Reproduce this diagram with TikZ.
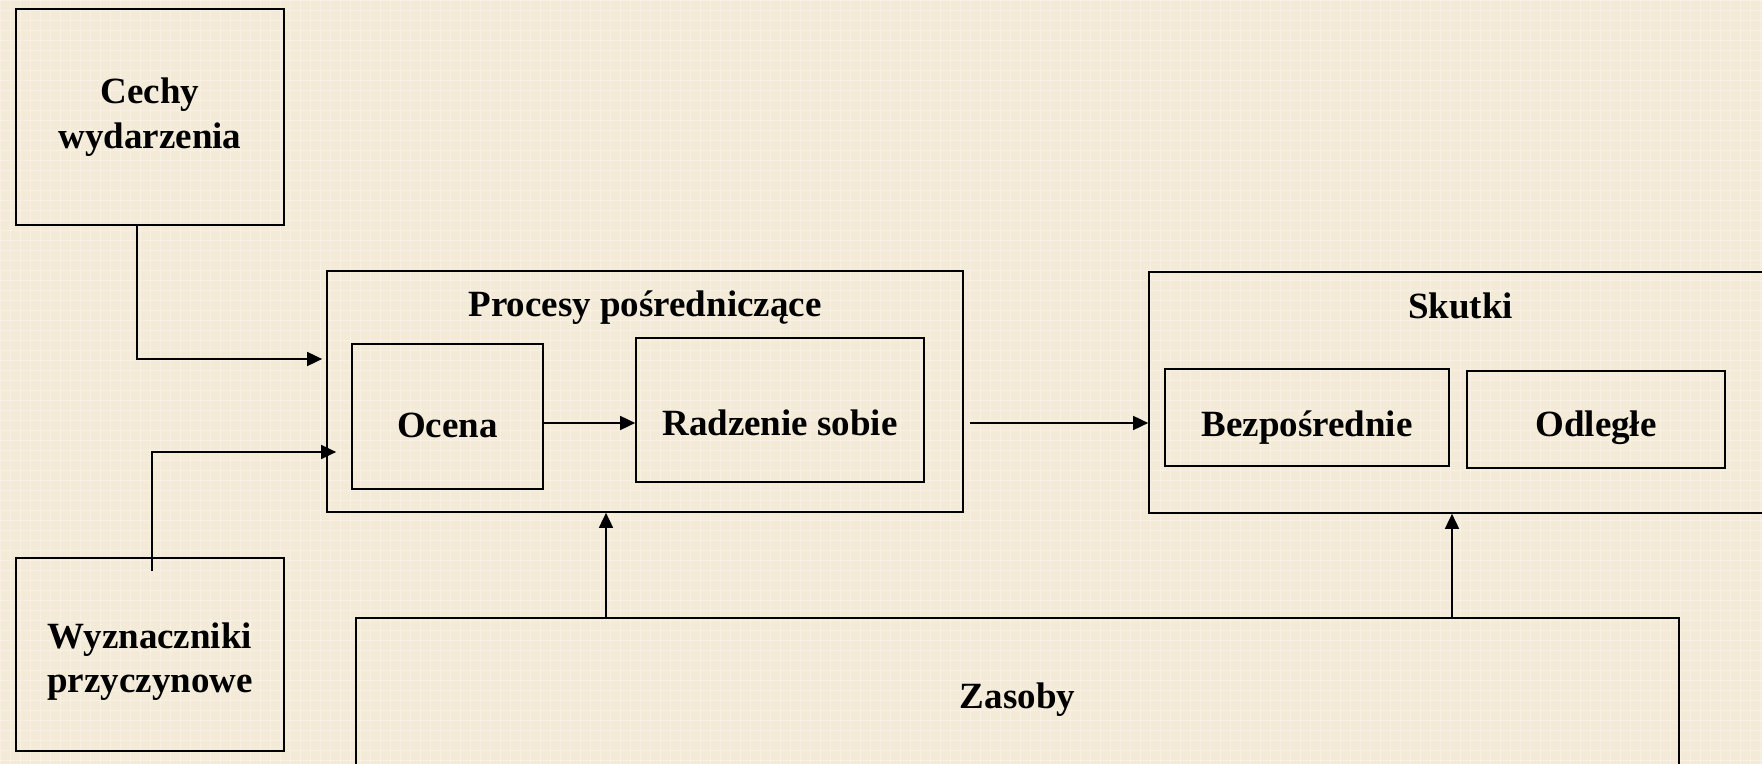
\documentclass[tikz,border=0pt]{standalone}
\usepackage{fontspec}
\setmainfont{Liberation Serif}
\usepackage{tikz}
\usetikzlibrary{calc,arrows.meta}
\definecolor{cream1} {RGB} {243, 235, 216}
\tikzstyle{zas}=[
  x=0.5pt, y=-0.5pt, font=\bfseries\fontsize{18.5}{22.3}\selectfont
]
\tikzstyle{zasbox}=[
  draw, line width=0.85pt, rectangle, align=center, inner sep=0pt
]
\tikzstyle{zasedge}=[
  line width=0.85pt, -{Triangle[length=7.5pt,width=7pt]}
]

\begin{document}
\begin{tikzpicture}[zas]

    \clip (0,0) rectangle (1762,764);
    \fill[cream1] (0,0) rectangle (1762,764);
    \draw[white, line width=0.4pt, opacity=0.35, step=5pt] (0,0) grid (1762,764);

    \node (cechy) [zasbox, minimum width=134pt, minimum height=108pt] at (150,117) {Cechy\\wydarzenia};
    \node (wyzn) [zasbox, minimum width=134pt, minimum height=96.5pt] at (150,654.5) {};
    \node (wyzntxt) [align=center] at ($(wyzn) + (0,7)$) {Wyznaczniki\\przyczynowe};

    \node (procesy) [zasbox, minimum width=318pt, minimum height=120.5pt] at (645,391.5) {};
    \node (procesytxt) at ($(procesy) + (0,-84)$) {Procesy pośredniczące};
    \node (ocena) [zasbox, minimum width=95.5pt, minimum height=72.5pt] at (447.5,416.5) {};
    \node (ocenatxt) at ($(ocena) + (0,9)$) {Ocena};
    \node (radzenie) [zasbox, minimum width=144pt, minimum height=72pt] at (780,410) {};
    \node (radzenietxt) at ($(radzenie) + (0,13)$) {Radzenie sobie};

    \node (skutki) [zasbox, minimum width=325.5pt, minimum height=120.5pt] at (1474.5,392.5) {};
    \node (skutkitxt) at ($(skutki) + (-14,-87)$) {Skutki};
    \node (bezp) [zasbox, minimum width=142pt, minimum height=48.5pt] at (1307,417.5) {};
    \node (bezptxt) at ($(bezp) + (0,10)$) {Bezpośrednie};
    \node (odlegle) [zasbox, minimum width=129pt, minimum height=48.5pt] at (1596,419.5) {};
    \node (odlegletxt) at ($(odlegle) + (0,8)$) {Odległe};

    \node (zasoby) [zasbox, minimum width=661.5pt, minimum height=116pt] at (1017.5,734) {};
    \node (zasobytxt) at ($(zasoby) + (0,-34)$) {Zasoby};

    \coordinate (upA) at ($(procesy.south) + (-39,0)$);
    \coordinate (upB) at ($(skutki.south) + (-22.5,0)$);

    \draw [zasedge] ($(cechy.south) + (-13,0)$) |- ($(procesy.west) + (-4,-32.5)$);
    \draw [zasedge] ($(wyzn.north) + (2,14)$) |- ($(procesy.west) + (10,60.5)$);
    \draw [zasedge] ($(ocena.east) + (0,6.5)$) -- ($(radzenie.west) + (0,13)$);
    \draw [zasedge] ($(procesy.east) + (6,31.5)$) -- ($(skutki.west) + (0,30.5)$);
    \draw [zasedge] (upA |- zasoby.north) -- (upA);
    \draw [zasedge] (upB |- zasoby.north) -- (upB);
\end{tikzpicture}
\end{document}
